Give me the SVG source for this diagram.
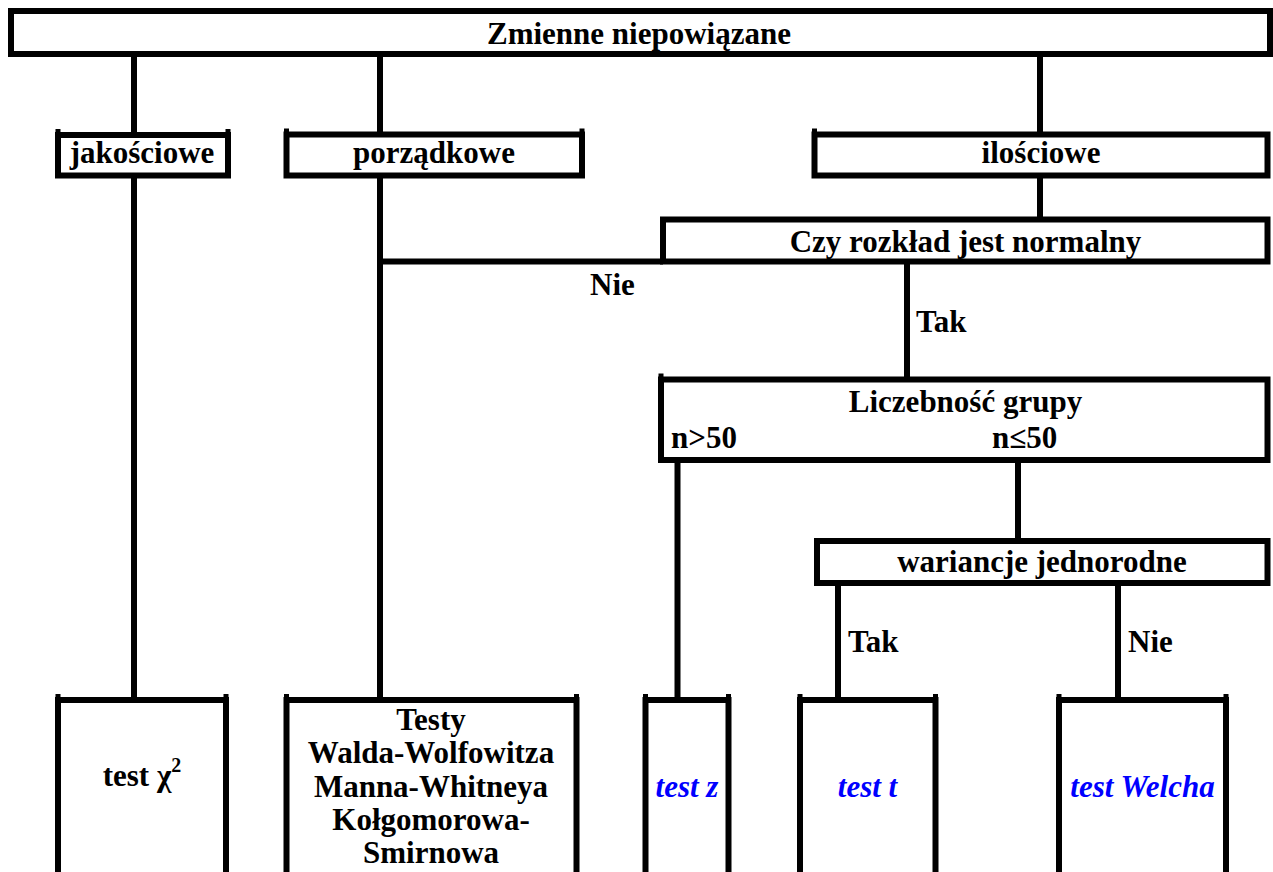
<svg xmlns="http://www.w3.org/2000/svg" width="1273" height="872" viewBox="0 0 1273 872">
<style>
.box{fill:#fff;stroke:#000;stroke-width:6}
.ln{fill:none;stroke:#000;stroke-width:6}
.tick{fill:none;stroke:#000;stroke-width:5}
text{font-family:"Liberation Serif","Times New Roman",serif;font-weight:bold;font-size:31px;fill:#000}
.c{text-anchor:middle}
.blue{fill:#0000ff;font-style:italic}
</style>
<rect width="1273" height="872" fill="#fff"/>
<g id="connectors">
<path class="ln" d="M134,54V135 M380,54V134.5 M1040,54V134.5"/>
<path class="ln" d="M134,175.5V700 M380,175.5V700 M1040,175.5V219.5"/>
<path class="ln" d="M380,261.5H663"/>
<path class="ln" d="M907,261.5V379.5"/>
<path class="ln" d="M677.5,460V700 M1018,460V541"/>
<path class="ln" d="M838,583V700 M1118,583V700"/>
</g>
<g id="n_top"><rect class="box" x="11" y="11" width="1259" height="43"/><text class="c" x="639" y="44">Zmienne niepowiązane</text></g>
<g id="n_jak"><rect class="box" x="58" y="135" width="170" height="40.5"/><path class="tick" d="M58,129V135 M228,129V135"/><text class="c" x="142" y="163">jakościowe</text></g>
<g id="n_por"><rect class="box" x="286.5" y="134.5" width="295.5" height="41"/><path class="tick" d="M286.5,128.5V134.5 M582,128.5V134.5"/><text class="c" x="434" y="163">porządkowe</text></g>
<g id="n_ilo"><rect class="box" x="814.5" y="134.5" width="453" height="41"/><path class="tick" d="M814.5,128.5V134.5"/><text class="c" x="1041" y="163">ilościowe</text></g>
<g id="n_czy"><rect class="box" x="663" y="219.5" width="604.5" height="42"/><text class="c" x="965.5" y="252">Czy rozkład jest normalny</text></g>
<g id="l_nie1"><text class="c" x="612.5" y="295">Nie</text></g>
<g id="l_tak1"><text x="916" y="332">Tak</text></g>
<g id="n_lic"><rect class="box" x="661" y="379.5" width="606.5" height="80.5"/><path class="tick" d="M661,373.5V379.5"/><text class="c" x="965.5" y="412">Liczebność grupy</text><text x="671" y="448">n&gt;50</text><text x="992" y="448">n≤50</text></g>
<g id="n_war"><rect class="box" x="817" y="541" width="450.5" height="42"/><text class="c" x="1042" y="572">wariancje jednorodne</text></g>
<g id="l_tak2"><text x="848" y="652">Tak</text></g>
<g id="l_nie2"><text x="1128" y="652">Nie</text></g>
<g id="n_chi"><rect class="box" x="58" y="700" width="168" height="200"/><path class="tick" d="M58,694V700 M226,694V700"/><text class="c" x="142" y="786">test χ<tspan font-size="20" dy="-14">2</tspan></text></g>
<g id="n_testy"><rect class="box" x="286.5" y="700" width="290" height="200"/><path class="tick" d="M286.5,694V700 M576.5,694V700"/><text class="c" x="431"><tspan x="431" y="730">Testy</tspan><tspan x="431" y="763">Walda-Wolfowitza</tspan><tspan x="431" y="797">Manna-Whitneya</tspan><tspan x="431" y="830">Kołgomorowa-</tspan><tspan x="431" y="863">Smirnowa</tspan></text></g>
<g id="n_z"><rect class="box" x="645.5" y="700" width="83" height="200"/><path class="tick" d="M645.5,694V700 M728.5,694V700"/><text class="c blue" x="687" y="797">test z</text></g>
<g id="n_t"><rect class="box" x="800" y="700" width="135.5" height="200"/><path class="tick" d="M800,694V700 M935.5,694V700"/><text class="c blue" x="867.5" y="797">test t</text></g>
<g id="n_welch"><rect class="box" x="1059" y="700" width="167" height="200"/><path class="tick" d="M1059,694V700 M1226,694V700"/><text class="c blue" x="1142.5" y="797">test Welcha</text></g>
</svg>
